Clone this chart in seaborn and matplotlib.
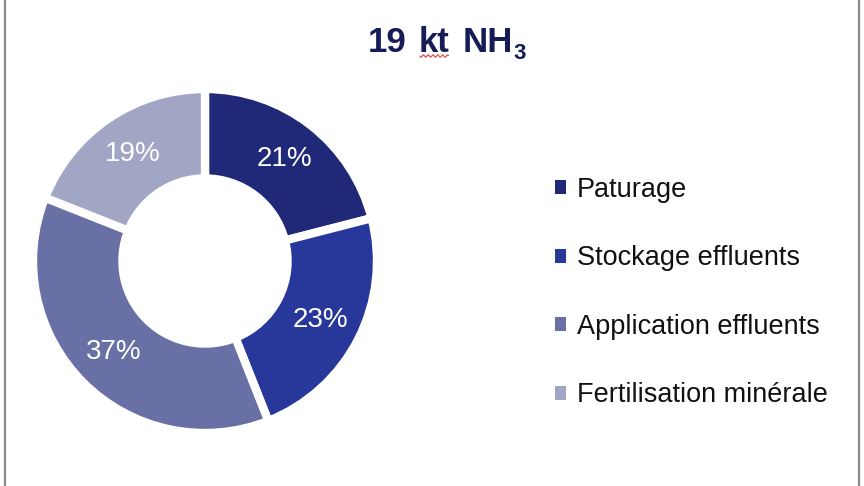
import matplotlib
matplotlib.use("Agg")
import matplotlib.pyplot as plt
from matplotlib.lines import Line2D
import numpy as np
import seaborn as sns

# Data
categories = ["Paturage", "Stockage effluents", "Application effluents", "Fertilisation minérale"]
shares = [21, 23, 37, 19]
pct_labels = ["21%", "23%", "37%", "19%"]
colors = ["#202878", "#28389A", "#6870A5", "#A2A6C5"]
title_parts = ["19", "kt", "NH", "3"]

sns.set_theme(style="white")
plt.rcParams['font.family'] = ['Liberation Sans', 'DejaVu Sans']

palette = sns.color_palette(colors)

fig = plt.figure(figsize=(8.64, 4.86), dpi=100)
fig.patch.set_facecolor("white")

W, H = 864, 486
cx, cy, r = 205, 261, 172
ax = fig.add_axes([(cx - r) / W, (H - cy - r) / H, 2 * r / W, 2 * r / H])

wedges, texts, autotexts = ax.pie(
    shares, colors=palette, startangle=90, counterclock=False,
    radius=1.0, autopct=lambda p: f"{p:.0f}%", pctdistance=0.75,
    wedgeprops=dict(width=0.52, edgecolor="white", linewidth=6),
    textprops=dict(color="white", fontsize=20),
)
for t, lab in zip(autotexts, pct_labels):
    t.set_text(lab)
ax.set_xlim(-1.0, 1.0)
ax.set_ylim(-1.0, 1.0)
ax.set_aspect("equal")
ax.axis("off")

# Title built from pieces, laid out with measured extents
title_color = "#161C55"
sizes = [25, 25, 25, 16]
baselines = [52, 52, 52, 59]
gaps = [12, 13, 1]
renderer = fig.canvas.get_renderer()
x = 368
title_texts = []
for i, (txt, fs, yb) in enumerate(zip(title_parts, sizes, baselines)):
    t = fig.text(x / W, 1 - yb / H, txt, ha="left", va="baseline",
                 fontsize=fs, fontweight="bold", color=title_color)
    title_texts.append(t)
    bb = t.get_window_extent(renderer=renderer)
    if i < len(gaps):
        x = bb.x1 + gaps[i]
kt_bb = title_texts[1].get_window_extent(renderer=renderer)
# spell-check squiggle under "kt"
xs = np.linspace(kt_bb.x0 + 1, kt_bb.x1 - 1, 50)
ys = 56 + 1.2 * np.sin((xs - xs[0]) * 1.3)
fig.add_artist(Line2D(xs / W, 1 - ys / H, color="#E04040", lw=0.8))

# Legend
leg = fig.legend(wedges, categories, loc="center left",
                 bbox_to_anchor=(555 / W, 1 - 292.5 / H), frameon=False,
                 fontsize=19.5, labelspacing=1.57, handlelength=0.42,
                 handleheight=0.42, handletextpad=0.38, borderpad=0,
                 borderaxespad=0, labelcolor="#111111")
for h in leg.legend_handles:
    h.set_edgecolor("none")
    h.set_linewidth(0)

# Side border lines
fig.add_artist(Line2D([4.5 / W, 4.5 / W], [0, 1], color="#8A8A8A", lw=1.6))
fig.add_artist(Line2D([858.5 / W, 858.5 / W], [0, 1], color="#8A8A8A", lw=1.6))

fig.savefig("out.png", dpi=100, facecolor="white")
